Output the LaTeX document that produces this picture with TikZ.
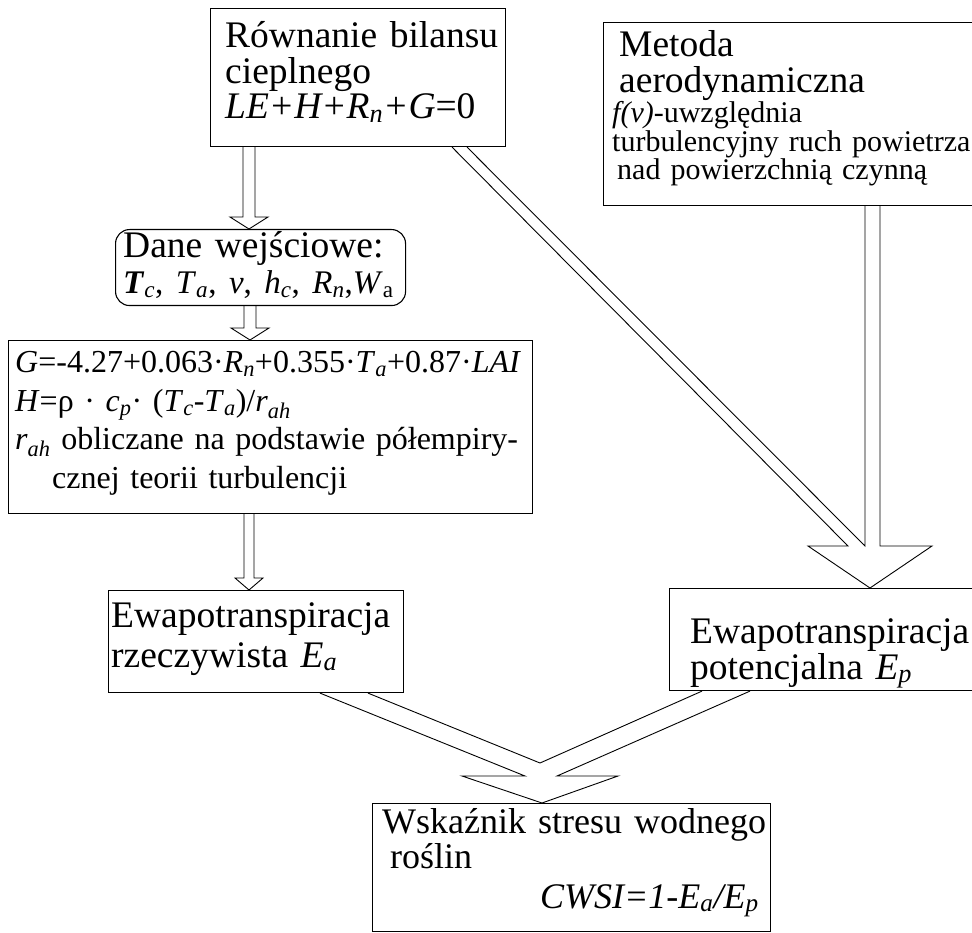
\documentclass[tikz,border=0pt]{standalone}
\usepackage{fontspec}
\setmainfont{Liberation Serif}
\setlength\lineskiplimit{-100pt}
\newcommand\sbs[1]{\textsubscript{\textit{#1}}}
\begin{document}
\begin{tikzpicture}[x=1pt,y=-1pt,
  box/.style={draw,line width=1.1pt,inner sep=0pt,anchor=north west},
  txt/.style={anchor=base west,inner sep=0pt,align=left,text width=700pt},
  bigf/.style={font=\fontsize{37.5}{#1}\selectfont},
  barrow/.style={draw,line width=0.9pt,line join=miter},
]
\useasboundingbox (0,0) rectangle (972,933);
% boxes
\node[box,minimum width=295pt,minimum height=138pt] (bil) at (210,8) {};
\node[box,minimum width=400pt,minimum height=183pt] (met) at (603,22) {};
\node[box,rounded corners=14pt,minimum width=290pt,minimum height=76pt] (dane) at (115,229) {};
\node[box,minimum width=524pt,minimum height=173pt] (gbox) at (8,340) {};
\node[box,minimum width=295pt,minimum height=102pt] (ea) at (108,590) {};
\node[box,minimum width=320pt,minimum height=102pt] (ep) at (669,588) {};
\node[box,minimum width=398pt,minimum height=128pt] (cw) at (372,803) {};
% texts
\node[txt,bigf=35.5] (bilT) at (225,48) {Równanie bilansu\\cieplnego\\\textit{LE+H+R}\sbs{n}\textit{+G}=0};
\node[txt,bigf=36] (metA) at (619,57) {Metoda\\aerodynamiczna};
\node[txt,font=\fontsize{30}{27}\selectfont] (metB) at (612,123)
  {\textit{f(v)}-uwzględnia\\turbulencyjny ruch powietrza\\\hspace*{5pt}nad powierzchnią czynną};
\node[txt,bigf=36] (daneT) at (123,258) {Dane wejściowe:\\{\fontsize{33}{36}\selectfont\textbf{\textit{T}}\sbs{c}, \textit{T}\sbs{a}, \textit{v}, \textit{h}\sbs{c}, \textit{R}\sbs{n},\textit{W}\textsubscript{a}}};
\node[txt,font=\fontsize{32}{38.5}\selectfont] (gT) at (15,373)
  {\textit{G}=-4.27+0.063·\textit{R}\sbs{n}+0.355·\textit{T}\sbs{a}+0.87·\textit{LAI}\\
   \textit{H}=ρ · \textit{c}\sbs{p}· (\textit{T}\sbs{c}-\textit{T}\sbs{a})/\textit{r}\sbs{ah}\\
   \textit{r}\sbs{ah} obliczane na podstawie półempiry-\\
   \hspace*{37pt}cznej teorii turbulencji};
\node[txt,bigf=40] (eaT) at (111,627) {Ewapotranspiracja\\rzeczywista \textit{E}\sbs{a}};
\node[txt,bigf=36] (epT) at (690,643) {Ewapotranspiracja\\potencjalna \textit{E}\sbs{p}};
\node[txt,font=\fontsize{36}{35}\selectfont] (cwT) at (382,833)
  {Wskaźnik stresu wodnego\\\hspace*{8pt}roślin\\[5pt]\hspace*{158pt}\textit{CWSI=1-E}\sbs{a}\textit{/E}\sbs{p}};
% block arrows
\draw[barrow] (243,0 |- bil.south) -- (243,217) -- (230,217) -- (249,0 |- dane.north)
  -- (268,217) -- (255,217) -- (255,0 |- bil.south);
\draw[barrow] (244,0 |- dane.south) -- (244,328) -- (231,328) -- (250,0 |- gbox.north)
  -- (269,328) -- (256,328) -- (256,0 |- dane.south);
\draw[barrow] (244,0 |- gbox.south) -- (244,578) -- (235,578) -- (249,0 |- ea.north)
  -- (263,578) -- (254,578) -- (254,0 |- gbox.south);
\draw[barrow] (452,0 |- bil.south) -- (848,546) -- (808,546) -- (870,0 |- ep.north)
  -- (932,546) -- (880,546) -- (880,0 |- met.south);
\draw[barrow] (865,0 |- met.south) -- (865,546) -- (467,0 |- bil.south);
\draw[barrow] (320,0 |- ea.south) -- (525,776) -- (462,776) -- (542,0 |- cw.north)
  -- (618,776) -- (557,776) -- (750,0 |- ep.south);
\draw[barrow] (702,0 |- ep.south) -- (540,763) -- (368,0 |- ea.south);
\end{tikzpicture}
\end{document}
